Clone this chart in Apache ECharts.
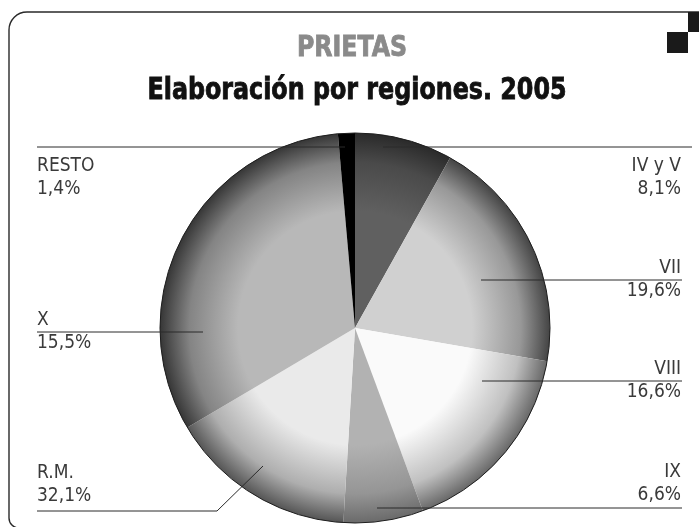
<!DOCTYPE html>
<html><head><meta charset="utf-8">
<script src="https://cdn.jsdelivr.net/npm/echarts@6/dist/echarts.min.js"></script>
<style>html,body{margin:0;padding:0;background:#fff}#c{width:699px;height:527px}</style>
</head><body><div id="c"></div>
<script>
// ---- data ----
const regions = ['IV y V', 'VII', 'VIII', 'IX', 'X', 'R.M.', 'RESTO'];
const shares = [8.1, 19.6, 16.6, 6.6, 15.5, 32.1, 1.4];
const titleTop = 'PRIETAS';
const titleMain = 'Elaboración por regiones. 2005';

// ---- styles ----
const innerColors = ['#606060', '#d0d0d0', '#fafafa', '#b2b2b2', '#eaeaea', '#b8b8b8', '#000000'];
const outerColors = ['#2a2a2a', '#444444', '#686868', '#6a6a6a', '#555555', '#363636', '#000000'];
const FONT = "'Liberation Sans Narrow','DejaVu Sans Condensed','Arial Narrow','DejaVu Sans',sans-serif";
const CX = 355, CY = 328, R = 195;

// label placement (leader lines & text anchors), in pixels
const labelSpots = [
  {align: 'right', tx: 681, ty: 155, va: 'top',    pts: [[383, 147], [692, 147]]},
  {align: 'right', tx: 681, ty: 280, va: 'middle', pts: [[481, 280], [682, 280]]},
  {align: 'right', tx: 681, ty: 381, va: 'middle', pts: [[482, 381], [682, 381]]},
  {align: 'right', tx: 681, ty: 507, va: 'bottom', pts: [[377, 508], [682, 508]]},
  {align: 'left',  tx: 37,  ty: 332, va: 'middle', pts: [[203, 332], [37, 332]]},
  {align: 'left',  tx: 37,  ty: 508, va: 'bottom', pts: [[263, 466], [217, 511], [37, 511]]},
  {align: 'left',  tx: 37,  ty: 155, va: 'top',    pts: [[345, 147], [37, 147]]}
];

function hex2rgb(h) { return [1, 3, 5].map(k => parseInt(h.substr(k, 2), 16)); }
function mix(a, b, t) {
  const A = hex2rgb(a), B = hex2rgb(b);
  return 'rgb(' + A.map((v, k) => Math.round(v + (B[k] - v) * t)).join(',') + ')';
}
function grad(i) {
  return {
    type: 'radial', x: CX, y: CY, r: R, global: true,
    colorStops: [
      {offset: 0, color: innerColors[i]},
      {offset: 0.6, color: innerColors[i]},
      {offset: 0.85, color: mix(innerColors[i], outerColors[i], 0.4)},
      {offset: 1, color: outerColors[i]}
    ]
  };
}

// condense title text to the reference widths
function fitScale(text, font, target) {
  const ctx = document.createElement('canvas').getContext('2d');
  ctx.font = font;
  return target / ctx.measureText(text).width;
}
const fTop = "bold 29px " + FONT;
const fMain = "bold 30px " + FONT;
const sTop = fitScale(titleTop, fTop, 110);
const sMain = fitScale(titleMain, fMain, 419);

const chart = echarts.init(document.getElementById('c'), null, {renderer: 'canvas'});
const labelSeriesBase = {
  type: 'pie',
  center: [CX, CY],
  radius: R,
  startAngle: 90,
  clockwise: true,
  avoidLabelOverlap: false,
  emphasis: {disabled: true}
};
chart.setOption({
  animation: false,
  backgroundColor: '#ffffff',
  graphic: [
    {type: 'rect', shape: {x: 9, y: 12, width: 760, height: 516, r: [18, 0, 0, 10]},
      style: {fill: 'none', stroke: '#2a2a2a', lineWidth: 1.4}, silent: true},
    {type: 'rect', shape: {x: 688, y: 12, width: 11, height: 20}, style: {fill: '#1a1a1a'}, silent: true},
    {type: 'rect', shape: {x: 667, y: 32, width: 21, height: 21}, style: {fill: '#1a1a1a'}, silent: true},
    {type: 'text', x: 352, y: 48, scaleX: sTop, silent: true,
      style: {text: titleTop, fill: '#8a8a8a', stroke: '#8a8a8a', lineWidth: 0.8, font: fTop, align: 'center', verticalAlign: 'middle'}},
    {type: 'text', x: 357, y: 91, scaleX: sMain, silent: true,
      style: {text: titleMain, fill: '#111111', stroke: '#111111', lineWidth: 0.8, font: fMain, align: 'center', verticalAlign: 'middle'}}
  ],
  series: [
    Object.assign({}, labelSeriesBase, {
      z: 2,
      silent: true,
      itemStyle: {borderWidth: 0},
      label: {show: false},
      labelLine: {show: false},
      data: regions.map((n, i) => ({name: n, value: shares[i], itemStyle: {color: grad(i)}}))
    }),
    {
      type: 'pie',
      z: 3,
      center: [CX, CY],
      radius: R,
      silent: true,
      label: {show: false},
      labelLine: {show: false},
      emphasis: {disabled: true},
      data: [{value: 1, itemStyle: {color: 'rgba(0,0,0,0)', borderColor: '#1e1e1e', borderWidth: 1}}]
    },
    Object.assign({}, labelSeriesBase, {
      z: 4,
      silent: true,
      itemStyle: {color: 'rgba(0,0,0,0)', borderWidth: 0},
      label: {
        show: true,
        position: 'outside',
        color: '#3a3a3a',
        fontFamily: FONT,
        fontSize: 19,
        lineHeight: 23,
        formatter: p => p.name + '\n' + p.value.toFixed(1).replace('.', ',') + '%'
      },
      labelLine: {show: true, length: 5, length2: 5, lineStyle: {color: '#2a2a2a', width: 1}},
      labelLayout: function (p) {
        const s = labelSpots[p.dataIndex];
        return {x: s.tx, y: s.ty, align: s.align, verticalAlign: s.va, labelLinePoints: s.pts};
      },
      data: regions.map((n, i) => ({name: n, value: shares[i]}))
    })
  ]
});
</script>
</body></html>
